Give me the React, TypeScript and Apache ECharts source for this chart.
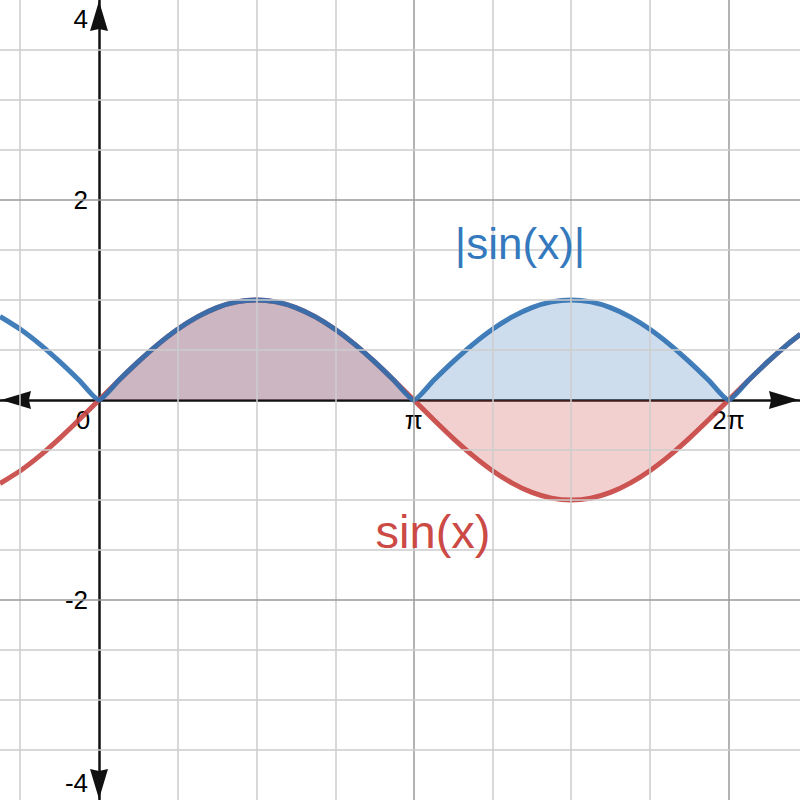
import React, { useEffect, useRef } from "react";
import * as echarts from "echarts";

// x samples (radians) and the two curves
const xs = [
  -0.988, -0.785, -0.589, -0.393, -0.196, 0, 0.196, 0.393, 0.589, 0.785, 0.982,
  1.178, 1.374, 1.571, 1.767, 1.963, 2.16, 2.356, 2.553, 2.749, 2.945, 3.142,
  3.338, 3.534, 3.731, 3.927, 4.123, 4.32, 4.516, 4.712, 4.909, 5.105, 5.301,
  5.498, 5.694, 5.89, 6.087, 6.283, 6.48, 6.676, 6.872, 7.0,
];
const sinVals = [
  -0.835, -0.707, -0.556, -0.383, -0.195, 0, 0.195, 0.383, 0.556, 0.707, 0.831,
  0.924, 0.981, 1, 0.981, 0.924, 0.831, 0.707, 0.556, 0.383, 0.195, 0, -0.195,
  -0.383, -0.556, -0.707, -0.831, -0.924, -0.981, -1, -0.981, -0.924, -0.831,
  -0.707, -0.556, -0.383, -0.195, 0, 0.195, 0.383, 0.556, 0.657,
];
const absSinVals = [
  0.835, 0.707, 0.556, 0.383, 0.195, 0, 0.195, 0.383, 0.556, 0.707, 0.831,
  0.924, 0.981, 1, 0.981, 0.924, 0.831, 0.707, 0.556, 0.383, 0.195, 0, 0.195,
  0.383, 0.556, 0.707, 0.831, 0.924, 0.981, 1, 0.981, 0.924, 0.831, 0.707,
  0.556, 0.383, 0.195, 0, 0.195, 0.383, 0.556, 0.657,
];
const shadeFrom = 0;
const shadeTo = 6.283;

const xTickValues = [0, 3.14159, 6.28319];
const xTickLabels = ["0", "π", "2π"];
const yTickValues = [-4, -2, 2, 4];
const yTickLabels = ["-4", "-2", "2", "4"];

const xMinorGrid = [-0.785, 0.785, 1.571, 2.356, 3.927, 4.712, 5.498];
const xMajorGrid = [3.142, 6.283];
const yMinorGrid = [-3.5, -3, -2.5, -1.5, -1, -0.5, 0.5, 1, 1.5, 2.5, 3, 3.5];
const yMajorGrid = [-2, 2];

const curveNames = ["sin(x)", "|sin(x)|"];

const RED = "#c74440";
const BLUE = "#2d70b3";
const FONT = "'Liberation Sans', Arial, Helvetica, sans-serif";
const ARROW = "path://M30,0 L60,100 L30,93 L0,100 Z";

function labelFor(values: number[], labels: string[], v: number) {
  let best = 0;
  for (let i = 1; i < values.length; i++) {
    if (Math.abs(values[i] - v) < Math.abs(values[best] - v)) best = i;
  }
  return labels[best];
}

export default function App() {
  const ref = useRef<HTMLDivElement>(null);

  useEffect(() => {
    document.body.style.margin = "0";
    if (!ref.current) return;
    const chart = echarts.init(ref.current, null, { renderer: "svg" });

    const sinData = xs.map((x, i) => [x, sinVals[i]]);
    const absData = xs.map((x, i) => [x, absSinVals[i]]);
    const inShade = (p: number[]) => p[0] >= shadeFrom - 1e-6 && p[0] <= shadeTo + 1e-6;

    const gridLines = [
      ...xMinorGrid.map((v) => ({ xAxis: v, lineStyle: { color: "#cdcdcd", width: 1.5, type: "solid" } })),
      ...xMajorGrid.map((v) => ({ xAxis: v, lineStyle: { color: "#9a9a9a", width: 1.5, type: "solid" } })),
      ...yMinorGrid.map((v) => ({ yAxis: v, lineStyle: { color: "#cdcdcd", width: 1.5, type: "solid" } })),
      ...yMajorGrid.map((v) => ({ yAxis: v, lineStyle: { color: "#9a9a9a", width: 1.5, type: "solid" } })),
    ];

    const axisLine = {
      onZero: false,
      symbol: [ARROW, ARROW],
      symbolSize: [18, 30],
      symbolOffset: [16, -16],
      lineStyle: { color: "#111111", width: 2.5 },
    };

    chart.setOption({
      animation: false,
      backgroundColor: "#ffffff",
      grid: {
        left: 0,
        right: 0,
        top: 0,
        bottom: 0,
        containLabel: false,
        outerBoundsMode: "none",
      },
      xAxis: {
        type: "value",
        position: "bottom",
        offset: -400,
        min: -0.988,
        max: 6.996,
        z: 1,
        axisLine,
        axisTick: { show: false },
        splitLine: { show: false },
        axisLabel: {
          customValues: xTickValues,
          showMinLabel: true,
          showMaxLabel: true,
          hideOverlap: false,
          margin: 7,
          color: "#000",
          fontSize: 26,
          fontFamily: FONT,
          formatter: (v: number) => {
            const t = labelFor(xTickValues, xTickLabels, v);
            return t === "0" ? "{zero|0}" : t;
          },
          rich: {
            zero: { fontSize: 26, fontFamily: FONT, color: "#000", padding: [0, 32, 0, 0] },
          },
        },
      },
      yAxis: {
        type: "value",
        position: "left",
        offset: -99,
        min: -4,
        max: 4,
        z: 1,
        axisLine,
        axisTick: { show: false },
        splitLine: { show: false },
        axisLabel: {
          customValues: yTickValues,
          showMinLabel: true,
          showMaxLabel: true,
          hideOverlap: false,
          margin: 11,
          color: "#000",
          fontSize: 26,
          fontFamily: FONT,
          formatter: (v: number) => {
            const t = labelFor(yTickValues, yTickLabels, v);
            if (v > 3) return "{top|" + t + "}";
            if (v < -3) return "{bot|" + t + "}";
            return t;
          },
          rich: {
            top: { fontSize: 26, fontFamily: FONT, color: "#000", padding: [38, 0, 0, 0] },
            bot: { fontSize: 26, fontFamily: FONT, color: "#000", padding: [0, 0, 34, 0] },
          },
        },
      },
      series: [
        {
          type: "line",
          data: [],
          z: 0,
          silent: true,
          markLine: {
            silent: true,
            symbol: ["none", "none"],
            label: { show: false },
            emphasis: { disabled: true },
            data: gridLines,
          },
        },
        {
          name: curveNames[1] + " fill",
          type: "line",
          data: absData.filter(inShade),
          z: 2,
          silent: true,
          showSymbol: false,
          smooth: 0.2,
          lineStyle: { width: 0 },
          areaStyle: { color: BLUE, opacity: 0.24, origin: 0 },
        },
        {
          name: curveNames[0] + " fill",
          type: "line",
          data: sinData.filter(inShade),
          z: 2,
          silent: true,
          showSymbol: false,
          smooth: 0.2,
          lineStyle: { width: 0 },
          areaStyle: { color: RED, opacity: 0.25, origin: 0 },
        },
        {
          name: curveNames[0],
          type: "line",
          data: sinData,
          z: 3,
          silent: true,
          showSymbol: false,
          smooth: 0.2,
          lineStyle: { color: RED, width: 5, opacity: 0.9 },
        },
        {
          name: curveNames[1],
          type: "line",
          data: absData,
          z: 4,
          silent: true,
          showSymbol: false,
          smooth: 0.2,
          lineStyle: { color: BLUE, width: 5, opacity: 0.9 },
        },
      ],
      graphic: [
        {
          type: "text",
          x: 520,
          y: 243,
          z: 10,
          style: {
            text: curveNames[1],
            fill: "#3479bd",
            fontSize: 44,
            fontFamily: FONT,
            align: "center",
            verticalAlign: "middle",
          },
        },
        {
          type: "text",
          x: 433,
          y: 531,
          z: 10,
          style: {
            text: curveNames[0],
            fill: "#cc4a46",
            fontSize: 47,
            fontFamily: FONT,
            align: "center",
            verticalAlign: "middle",
          },
        },
      ],
    });

    return () => chart.dispose();
  }, []);

  return <div ref={ref} style={{ width: 800, height: 800 }} />;
}
